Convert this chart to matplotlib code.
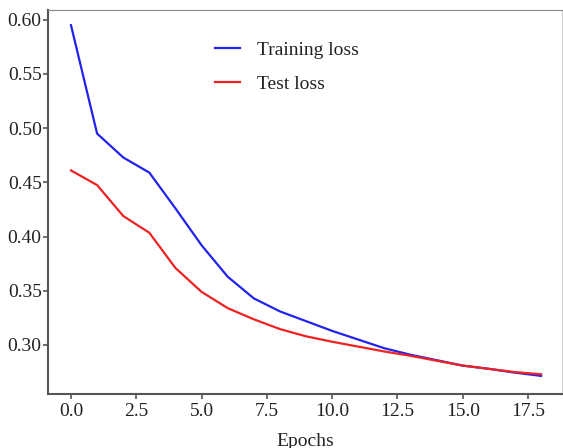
import numpy as np
import matplotlib.pyplot as plt

plt.rcParams['font.family'] = ['Liberation Serif', 'DejaVu Serif']

epochs = np.arange(19)
train_loss = [0.595, 0.495, 0.473, 0.459, 0.426, 0.392, 0.363, 0.343, 0.331, 0.322,
              0.313, 0.305, 0.297, 0.291, 0.286, 0.281, 0.278, 0.2745, 0.2715]
test_loss = [0.461, 0.4475, 0.419, 0.4035, 0.371, 0.349, 0.334, 0.3237, 0.3147, 0.308,
             0.303, 0.2985, 0.294, 0.290, 0.2855, 0.281, 0.278, 0.275, 0.273]

fig = plt.figure(figsize=(5.63, 4.48), dpi=100)
ax = fig.add_axes([48 / 563, 54 / 448, 514 / 563, 384 / 448])

ax.plot(epochs, train_loss, color='#2222ee', lw=1.6, label='Training loss')
ax.plot(epochs, test_loss, color='#ee2222', lw=1.6, label='Test loss')

ax.set_xlim(-0.88, 18.8)
ax.set_ylim(0.2548, 0.609)
ax.set_xticks(np.arange(0, 18, 2.5))
ax.set_yticks([0.30, 0.35, 0.40, 0.45, 0.50, 0.55, 0.60])
ax.xaxis.set_major_formatter(plt.FormatStrFormatter('%.1f'))
ax.yaxis.set_major_formatter(plt.FormatStrFormatter('%.2f'))

for s in ['left', 'bottom']:
    ax.spines[s].set_color('#555555')
    ax.spines[s].set_linewidth(1.5)
ax.spines['top'].set_color('#888888')
ax.spines['right'].set_color('#cccccc')
ax.tick_params(axis='both', labelsize=14, colors='#555555', labelcolor='#222222',
               length=3.5, width=1.2)
ax.tick_params(axis='y', pad=1)
ax.tick_params(axis='x', pad=3)

ax.set_xlabel('Epochs', fontsize=14, color='#222222', labelpad=9)

ax.legend(loc='upper left', bbox_to_anchor=(0.29, 0.965), frameon=False, fontsize=14,
          handlelength=1.3, handletextpad=0.9, labelspacing=0.85, labelcolor='#222222')

fig.savefig('out.png', dpi=100)
